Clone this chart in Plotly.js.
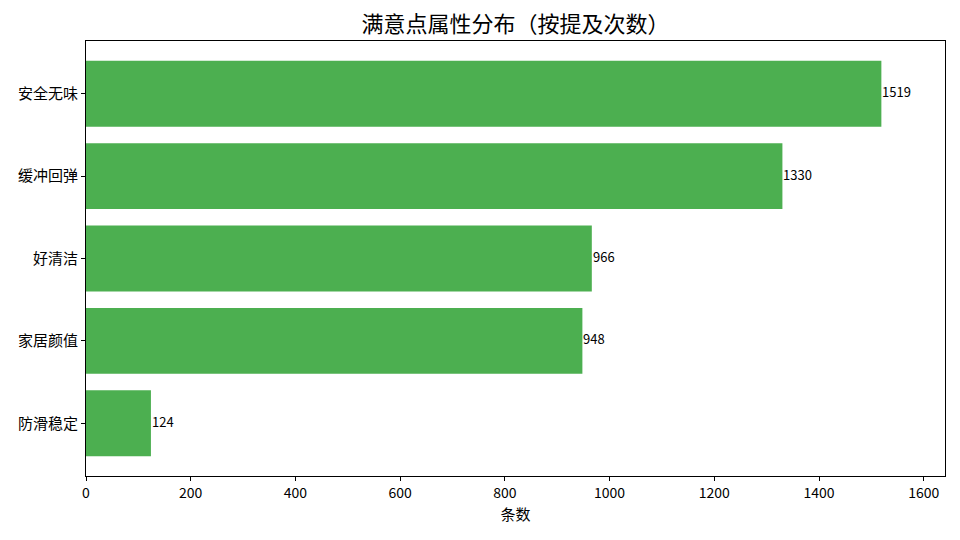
<!DOCTYPE html>
<html><head><meta charset="utf-8">
<script src="https://cdn.plot.ly/plotly-3.0.1.min.js"></script>
<style>html,body{margin:0;padding:0;background:#fff}#c{width:960px;height:540px}</style>
</head><body><div id="c"></div>
<script>
const categories = ["安全无味", "缓冲回弹", "好清洁", "家居颜值", "防滑稳定"];
const counts = [1519, 1330, 966, 948, 124];
const xTicks = [0, 200, 400, 600, 800, 1000, 1200, 1400, 1600];

const font = "Noto Sans CJK SC, Noto Sans, sans-serif";
const trace = {
  type: "bar", orientation: "h",
  x: counts, y: categories,
  marker: {color: "#4caf50", line: {width: 0}},
  width: 0.8, hoverinfo: "none"
};
const annotations = counts.map((v, i) => ({
  x: v, y: categories[i], xref: "x", yref: "y",
  text: String(v), showarrow: false, xanchor: "left", yanchor: "middle",
  xshift: -1, yshift: 2, font: {family: font, size: 13, color: "#000"}
}));
const layout = {
  width: 960, height: 540,
  margin: {l: 86, r: 15, t: 41, b: 64},
  paper_bgcolor: "#fff", plot_bgcolor: "#fff",
  font: {family: font, size: 14, color: "#000"},
  title: {text: "满意点属性分布（按提及次数）", x: 0.537, xanchor: "center", y: 0.955, yanchor: "middle",
          font: {family: font, size: 22, color: "#000"}},
  xaxis: {range: [0, counts[0] * 1.08], tickvals: xTicks, ticktext: xTicks.map(String),
          showgrid: false, zeroline: false, showline: true, mirror: true, linecolor: "#000", linewidth: 1,
          ticks: "outside", ticklen: 4, tickcolor: "#000", tickwidth: 1,
          tickfont: {family: font, size: 14}, title: {text: "条数", font: {family: font, size: 15}, standoff: 8}},
  yaxis: {type: "category", range: [4.64, -0.64], showgrid: false, zeroline: false,
          showline: true, mirror: true, linecolor: "#000", linewidth: 1,
          ticks: "outside", ticklen: 4, tickcolor: "#000", tickwidth: 1,
          tickfont: {family: font, size: 15}},
  annotations: annotations,
  showlegend: false, bargap: 0.2
};
Plotly.newPlot("c", [trace], layout, {staticPlot: true, displayModeBar: false});
</script></body></html>
